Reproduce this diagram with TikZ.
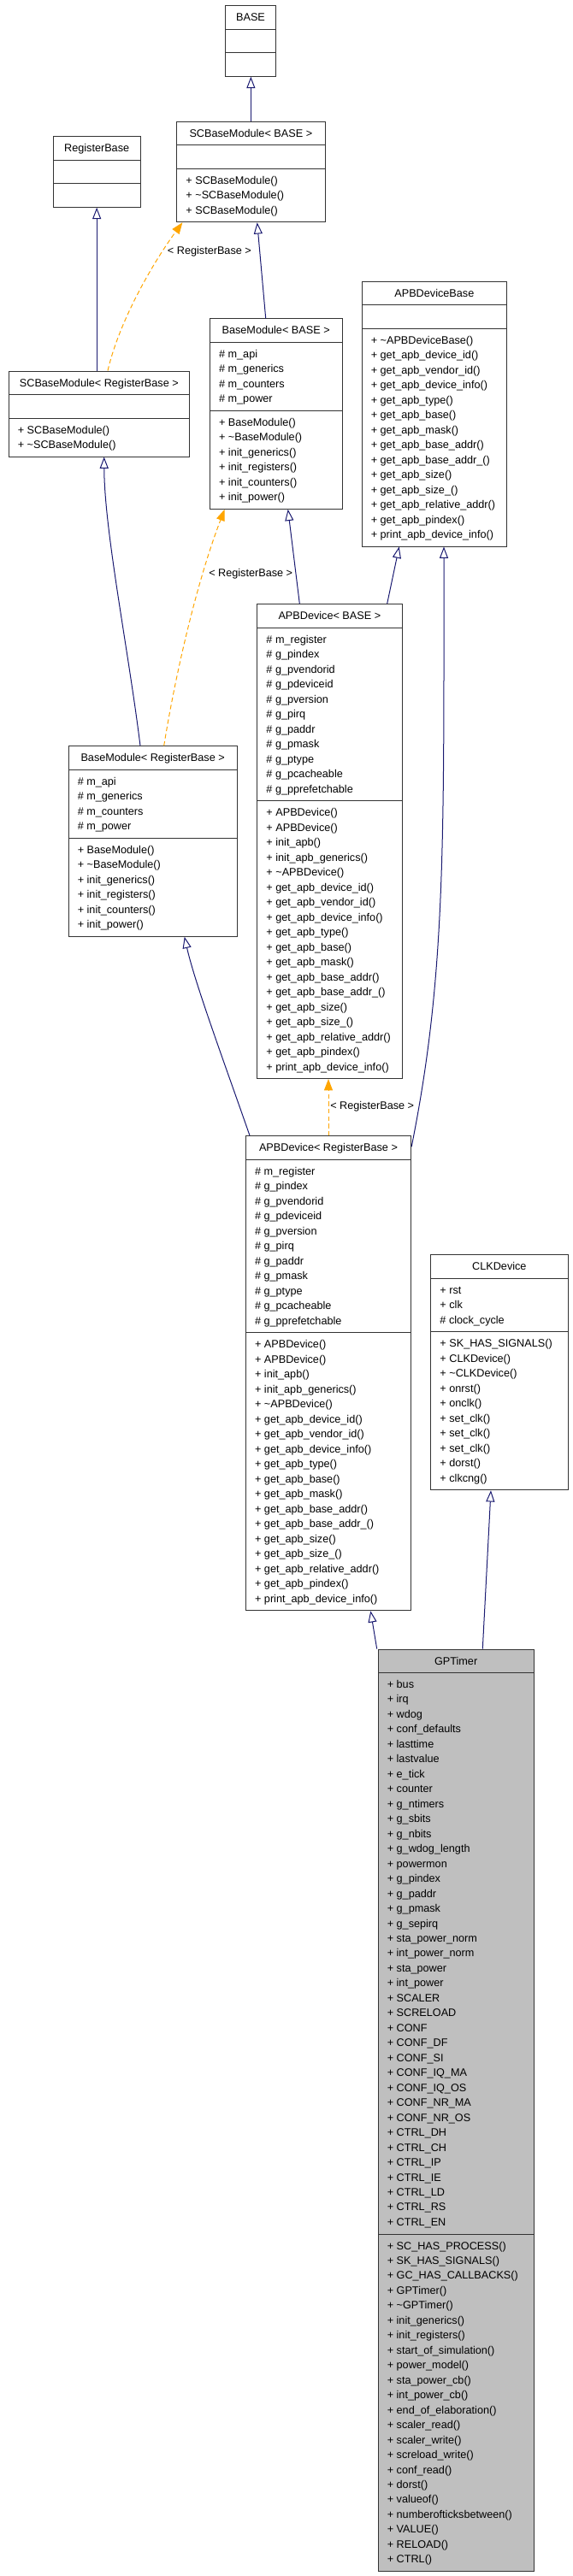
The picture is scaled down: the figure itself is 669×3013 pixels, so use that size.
\documentclass[tikz,border=0pt]{standalone}
\usepackage{fontspec}
\setmainfont{Liberation Sans}
\usepackage{xcolor}
\usetikzlibrary{arrows.meta,fit,calc}
\definecolor{edgeblue}{HTML}{191970}
\definecolor{tmplorange}{HTML}{FFA500}
\definecolor{boxgray}{HTML}{BFBFBF}

\begin{document}
\begin{tikzpicture}[x=0.75pt,y=-0.75pt,
    font=\fontsize{9.5}{11}\selectfont,
    cls/.style={draw=black!80, line width=0.75pt, inner sep=0pt},
    sepline/.style={draw=black!80, line width=0.75pt},
    ctitle/.style={anchor=base, inner sep=0pt},
    cmember/.style={anchor=base west, inner sep=0pt},
    inherit/.style={draw=edgeblue, line width=0.75pt, -{Triangle[length=10pt,width=7.5pt,fill=white]}},
    tmpl/.style={draw=tmplorange, line width=0.75pt, dash pattern=on 4pt off 2.5pt, -{Triangle[length=10pt,width=7.5pt,fill=tmplorange]}},
    tlabel/.style={anchor=west, inner sep=0pt}]
\useasboundingbox (0,0) rectangle (669,3013);

% BASE
\node[cls, fit={(263.3,6.75) (322.7,89.25)}] (base) {};
\node[ctitle] (base-t) at (293,24.75) {BASE};
\draw[sepline] (263.3,34.25) -- (322.7,34.25);
\draw[sepline] (263.3,61.75) -- (322.7,61.75);

% SCBaseModule< BASE >
\node[cls, fit={(206.7,142.25) (380,259.75)}] (scbase) {};
\node[ctitle] (scbase-t) at (293.35,160.25) {SCBaseModule< BASE >};
\draw[sepline] (206.7,169.75) -- (380,169.75);
\draw[sepline] (206.7,197.25) -- (380,197.25);
\foreach \m [count=\i] in {+ SCBaseModule(), + \textasciitilde SCBaseModule(), + SCBaseModule()}
  \node[cmember] (scbase-m\i) at (217.2,197.75+17.5*\i) {\m};

% RegisterBase
\node[cls, fit={(62.3,159.75) (164,242.25)}] (regbase) {};
\node[ctitle] (regbase-t) at (113.15,177.75) {RegisterBase};
\draw[sepline] (62.3,187.25) -- (164,187.25);
\draw[sepline] (62.3,214.75) -- (164,214.75);

% SCBaseModule< RegisterBase >
\node[cls, fit={(10,434) (221.7,534)}] (screg) {};
\node[ctitle] (screg-t) at (115.85,452) {SCBaseModule< RegisterBase >};
\draw[sepline] (10,461.5) -- (221.7,461.5);
\draw[sepline] (10,489) -- (221.7,489);
\foreach \m [count=\i] in {+ SCBaseModule(), + \textasciitilde SCBaseModule()}
  \node[cmember] (screg-m\i) at (20.5,489.5+17.5*\i) {\m};

% BaseModule< BASE >
\node[cls, fit={(245.3,372.75) (400,595.25)}] (bmbase) {};
\node[ctitle] (bmbase-t) at (322.65,390.75) {BaseModule< BASE >};
\draw[sepline] (245.3,400.25) -- (400,400.25);
\draw[sepline] (245.3,480.25) -- (400,480.25);
\foreach \m [count=\i] in {\# m\_api, \# m\_generics, \# m\_counters, \# m\_power}
  \node[cmember] (bmbase-a\i) at (255.8,400.75+17.5*\i) {\m};
\foreach \m [count=\i] in {+ BaseModule(), + \textasciitilde BaseModule(), + init\_generics(),
    + init\_registers(), + init\_counters(), + init\_power()}
  \node[cmember] (bmbase-m\i) at (255.8,480.75+17.5*\i) {\m};

% APBDeviceBase
\node[cls, fit={(423,329) (592.7,639)}] (apbbase) {};
\node[ctitle] (apbbase-t) at (507.85,347) {APBDeviceBase};
\draw[sepline] (423,356.5) -- (592.7,356.5);
\draw[sepline] (423,384) -- (592.7,384);
\foreach \m [count=\i] in {+ \textasciitilde APBDeviceBase(), + get\_apb\_device\_id(), + get\_apb\_vendor\_id(),
    + get\_apb\_device\_info(), + get\_apb\_type(), + get\_apb\_base(), + get\_apb\_mask(),
    + get\_apb\_base\_addr(), + get\_apb\_base\_addr\_(), + get\_apb\_size(), + get\_apb\_size\_(),
    + get\_apb\_relative\_addr(), + get\_apb\_pindex(), + print\_apb\_device\_info()}
  \node[cmember] (apbbase-m\i) at (433.5,384.5+17.5*\i) {\m};

% APBDevice< BASE >
\node[cls, fit={(300.7,706.5) (470,1261.5)}] (apbdev) {};
\node[ctitle] (apbdev-t) at (385.35,724.5) {APBDevice< BASE >};
\draw[sepline] (300.7,734) -- (470,734);
\draw[sepline] (300.7,936.5) -- (470,936.5);
\foreach \m [count=\i] in {\# m\_register, \# g\_pindex, \# g\_pvendorid, \# g\_pdeviceid, \# g\_pversion,
    \# g\_pirq, \# g\_paddr, \# g\_pmask, \# g\_ptype, \# g\_pcacheable, \# g\_pprefetchable}
  \node[cmember] (apbdev-a\i) at (311.2,734.5+17.5*\i) {\m};
\foreach \m [count=\i] in {+ APBDevice(), + APBDevice(), + init\_apb(), + init\_apb\_generics(),
    + \textasciitilde APBDevice(), + get\_apb\_device\_id(), + get\_apb\_vendor\_id(), + get\_apb\_device\_info(),
    + get\_apb\_type(), + get\_apb\_base(), + get\_apb\_mask(), + get\_apb\_base\_addr(),
    + get\_apb\_base\_addr\_(), + get\_apb\_size(), + get\_apb\_size\_(), + get\_apb\_relative\_addr(),
    + get\_apb\_pindex(), + print\_apb\_device\_info()}
  \node[cmember] (apbdev-m\i) at (311.2,937+17.5*\i) {\m};

% BaseModule< RegisterBase >
\node[cls, fit={(80,872.75) (277.3,1095.25)}] (bmreg) {};
\node[ctitle] (bmreg-t) at (178.65,890.75) {BaseModule< RegisterBase >};
\draw[sepline] (80,900.25) -- (277.3,900.25);
\draw[sepline] (80,980.25) -- (277.3,980.25);
\foreach \m [count=\i] in {\# m\_api, \# m\_generics, \# m\_counters, \# m\_power}
  \node[cmember] (bmreg-a\i) at (90.5,900.75+17.5*\i) {\m};
\foreach \m [count=\i] in {+ BaseModule(), + \textasciitilde BaseModule(), + init\_generics(),
    + init\_registers(), + init\_counters(), + init\_power()}
  \node[cmember] (bmreg-m\i) at (90.5,980.75+17.5*\i) {\m};

% APBDevice< RegisterBase >
\node[cls, fit={(287.3,1328.7) (480.7,1883.7)}] (apbreg) {};
\node[ctitle] (apbreg-t) at (384,1346.7) {APBDevice< RegisterBase >};
\draw[sepline] (287.3,1356.2) -- (480.7,1356.2);
\draw[sepline] (287.3,1558.7) -- (480.7,1558.7);
\foreach \m [count=\i] in {\# m\_register, \# g\_pindex, \# g\_pvendorid, \# g\_pdeviceid, \# g\_pversion,
    \# g\_pirq, \# g\_paddr, \# g\_pmask, \# g\_ptype, \# g\_pcacheable, \# g\_pprefetchable}
  \node[cmember] (apbreg-a\i) at (297.8,1356.7+17.5*\i) {\m};
\foreach \m [count=\i] in {+ APBDevice(), + APBDevice(), + init\_apb(), + init\_apb\_generics(),
    + \textasciitilde APBDevice(), + get\_apb\_device\_id(), + get\_apb\_vendor\_id(), + get\_apb\_device\_info(),
    + get\_apb\_type(), + get\_apb\_base(), + get\_apb\_mask(), + get\_apb\_base\_addr(),
    + get\_apb\_base\_addr\_(), + get\_apb\_size(), + get\_apb\_size\_(), + get\_apb\_relative\_addr(),
    + get\_apb\_pindex(), + print\_apb\_device\_info()}
  \node[cmember] (apbreg-m\i) at (297.8,1559.2+17.5*\i) {\m};

% CLKDevice
\node[cls, fit={(503.7,1467.7) (664,1742.7)}] (clkdev) {};
\node[ctitle] (clkdev-t) at (583.85,1485.7) {CLKDevice};
\draw[sepline] (503.7,1495.2) -- (664,1495.2);
\draw[sepline] (503.7,1557.7) -- (664,1557.7);
\foreach \m [count=\i] in {+ rst, + clk, \# clock\_cycle}
  \node[cmember] (clkdev-a\i) at (514.2,1495.7+17.5*\i) {\m};
\foreach \m [count=\i] in {+ SK\_HAS\_SIGNALS(), + CLKDevice(), + \textasciitilde CLKDevice(), + onrst(),
    + onclk(), + set\_clk(), + set\_clk(), + set\_clk(), + dorst(), + clkcng()}
  \node[cmember] (clkdev-m\i) at (514.2,1558.2+17.5*\i) {\m};

% GPTimer
\node[cls, fill=boxgray, fit={(442,1929) (624.3,3007)}] (gptimer) {};
\node[ctitle] (gptimer-t) at (533.15,1947) {GPTimer};
\draw[sepline] (442,1956.5) -- (624.3,1956.5);
\draw[sepline] (442,2613) -- (624.3,2613);
\foreach \m [count=\i] in {+ bus, + irq, + wdog, + conf\_defaults, + lasttime, + lastvalue, + e\_tick,
    + counter, + g\_ntimers, + g\_sbits, + g\_nbits, + g\_wdog\_length, + powermon, + g\_pindex,
    + g\_paddr, + g\_pmask, + g\_sepirq, + sta\_power\_norm, + int\_power\_norm, + sta\_power,
    + int\_power, + SCALER, + SCRELOAD, + CONF, + CONF\_DF, + CONF\_SI, + CONF\_IQ\_MA,
    + CONF\_IQ\_OS, + CONF\_NR\_MA, + CONF\_NR\_OS, + CTRL\_DH, + CTRL\_CH, + CTRL\_IP,
    + CTRL\_IE, + CTRL\_LD, + CTRL\_RS, + CTRL\_EN}
  \node[cmember] (gptimer-a\i) at (452.5,1957+17.47*\i) {\m};
\foreach \m [count=\i] in {+ SC\_HAS\_PROCESS(), + SK\_HAS\_SIGNALS(), + GC\_HAS\_CALLBACKS(),
    + GPTimer(), + \textasciitilde GPTimer(), + init\_generics(), + init\_registers(),
    + start\_of\_simulation(), + power\_model(), + sta\_power\_cb(), + int\_power\_cb(),
    + end\_of\_elaboration(), + scaler\_read(), + scaler\_write(), + screload\_write(),
    + conf\_read(), + dorst(), + valueof(), + numberofticksbetween(), + VALUE(),
    + RELOAD(), + CTRL()}
  \node[cmember] (gptimer-m\i) at (452.5,2613.5+17.47*\i) {\m};

% inheritance
\draw[inherit] (scbase.north) -- (scbase.north |- base.south);
\draw[inherit] (regbase.south |- screg.north) -- (regbase.south);
\draw[inherit] ($(bmbase.north)+(-11.95,0)$) -- ($(scbase.south)+(7.35,0)$);
\draw[inherit] ($(bmreg.north)+(-14.65,0)$) .. controls +(-14,-112.75) and +(0.3,86) .. ($(screg.south)+(5.85,0)$);
\draw[inherit] ($(apbdev.north)+(-35.05,0)$) -- ($(bmbase.south)+(14.05,0)$);
\draw[inherit] ($(apbdev.north)+(67.35,0)$) -- ($(apbbase.south)+(-41.15,0)$);
\draw[inherit] ($(apbreg.north)+(-92,0)$) .. controls +(-27,-77.7) and +(12.3,54.75) .. ($(bmreg.south)+(37.05,0)$);
\draw[inherit] ($(apbreg.north east)+(0,13)$) .. controls +(40,-200) and +(0,350) .. ($(apbbase.south)+(11.15,0)$);
\draw[inherit] ($(gptimer.north)+(-92.45,0)$) -- ($(apbreg.south)+(49.3,0)$);
\draw[inherit] ($(gptimer.north)+(31.15,0)$) -- ($(clkdev.south)+(-9.85,0)$);

% template instances
\draw[tmpl] ($(screg.north)+(10.15,0)$) .. controls +(14,-60) and +(-33,45) .. ($(scbase.south)+(-80,0)$);
\node[tlabel] (lbl-scbase) at (195.7,294) {< RegisterBase >};
\draw[tmpl] ($(bmreg.north)+(13.05,0)$) .. controls +(13.3,-82.75) and +(-32.7,84.75) .. ($(bmbase.south)+(-59.95,0)$);
\node[tlabel] (lbl-bmbase) at (244,671) {< RegisterBase >};
\draw[tmpl] (apbreg.north) -- (apbreg.north |- apbdev.south);
\node[tlabel] (lbl-apbdev) at (386,1294) {< RegisterBase >};
\end{tikzpicture}
\end{document}
